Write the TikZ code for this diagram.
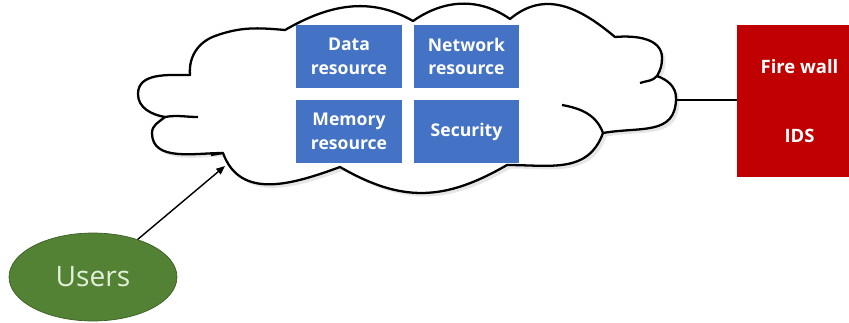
\documentclass[tikz,border=0pt]{standalone}
\usepackage{fontspec}
\setmainfont{Open Sans}
\usepackage{tikz}
\usetikzlibrary{shapes.geometric,shadows,arrows.meta}
\definecolor{resblue}{HTML}{4472C4}
\definecolor{fwred}{HTML}{C00000}
\definecolor{usergreen}{HTML}{548235}
\definecolor{userline}{HTML}{3B5E24}
\definecolor{usertext}{HTML}{E2F0D9}

\begin{document}
\begin{tikzpicture}[x=0.02cm, y=-0.02cm,
        res/.style={fill=resblue, text=white, font=\bfseries\fontsize{10}{13.5}\selectfont, align=center,
            minimum width=2.12cm, minimum height=1.26cm, inner sep=0pt},
        cloudline/.style={line width=1.3pt, line join=round}]
        \useasboundingbox (0, 0) rectangle (849, 322);
        % cloud outline, puff by puff
        \filldraw[cloudline, fill=white, drop shadow={opacity=0.2, shadow xshift=2pt, shadow yshift=-2pt}]
            (190, 75) to[out=95, in=-160] (215, 36) to[out=20, in=175] (285, 30)
            to[out=30, in=150] (413, 21)
            to[out=35, in=145] (510, 19)
            to[out=40, in=140, looseness=1.1] (615, 37)
            to[out=5, in=90] (662, 58) to[out=-90, in=60] (657, 76)
            to[out=-20, in=90] (676, 98) to[out=-90, in=10, looseness=1.2] (603, 133)
            to[out=-110, in=0, looseness=1.1] (507, 165)
            to[out=-150, in=-30, looseness=1.1] (340, 167)
            to[out=-160, in=-70, looseness=1.1] (223, 153)
            to[out=180, in=-90] (152, 133) to[out=90, in=-140] (165, 117)
            to[out=170, in=-90] (138, 94) to[out=90, in=180] cycle;
        % inner arcs of the cloud
        \draw[cloudline] (165, 117) to[out=10, in=180] (198, 117);
        \draw[cloudline] (223, 153) -- (211, 155);
        \draw[cloudline] (657, 76) to[out=-130, in=20] (640, 83);
        \draw[cloudline] (603, 133) to[out=110, in=-10] (562, 105);
        \node[res] (data) at (349, 56.5) {Data\\resource};
        \node[res] (net) at (466.5, 56.5) {Network\\resource};
        \node[res] (mem) at (349, 131.5) {Memory\\resource};
        \node[res] (sec) at (466.5, 131.5) {Security};
        \node[fill=fwred, text=white, font=\bfseries\fontsize{10.5}{13}\selectfont, align=center,
            minimum width=2.5cm, minimum height=3.04cm, inner sep=0pt] (fw) at (799.5, 101) {Fire wall\\[26pt]IDS};
        \coordinate (cloudeast) at (676, 100);
        \draw[line width=0.8pt] (cloudeast) -- (cloudeast -| fw.west);
        \node[ellipse, fill=usergreen, draw=userline, text=usertext, font=\fontsize{16}{19}\selectfont,
            minimum width=3.36cm, minimum height=1.76cm] (users) at (93, 277) {Users};
        \coordinate (arrowend) at (225, 166);
        \draw[line width=0.8pt, -{Triangle[length=5pt, width=4pt]}] (users) -- (arrowend);
    \end{tikzpicture}
\end{document}
